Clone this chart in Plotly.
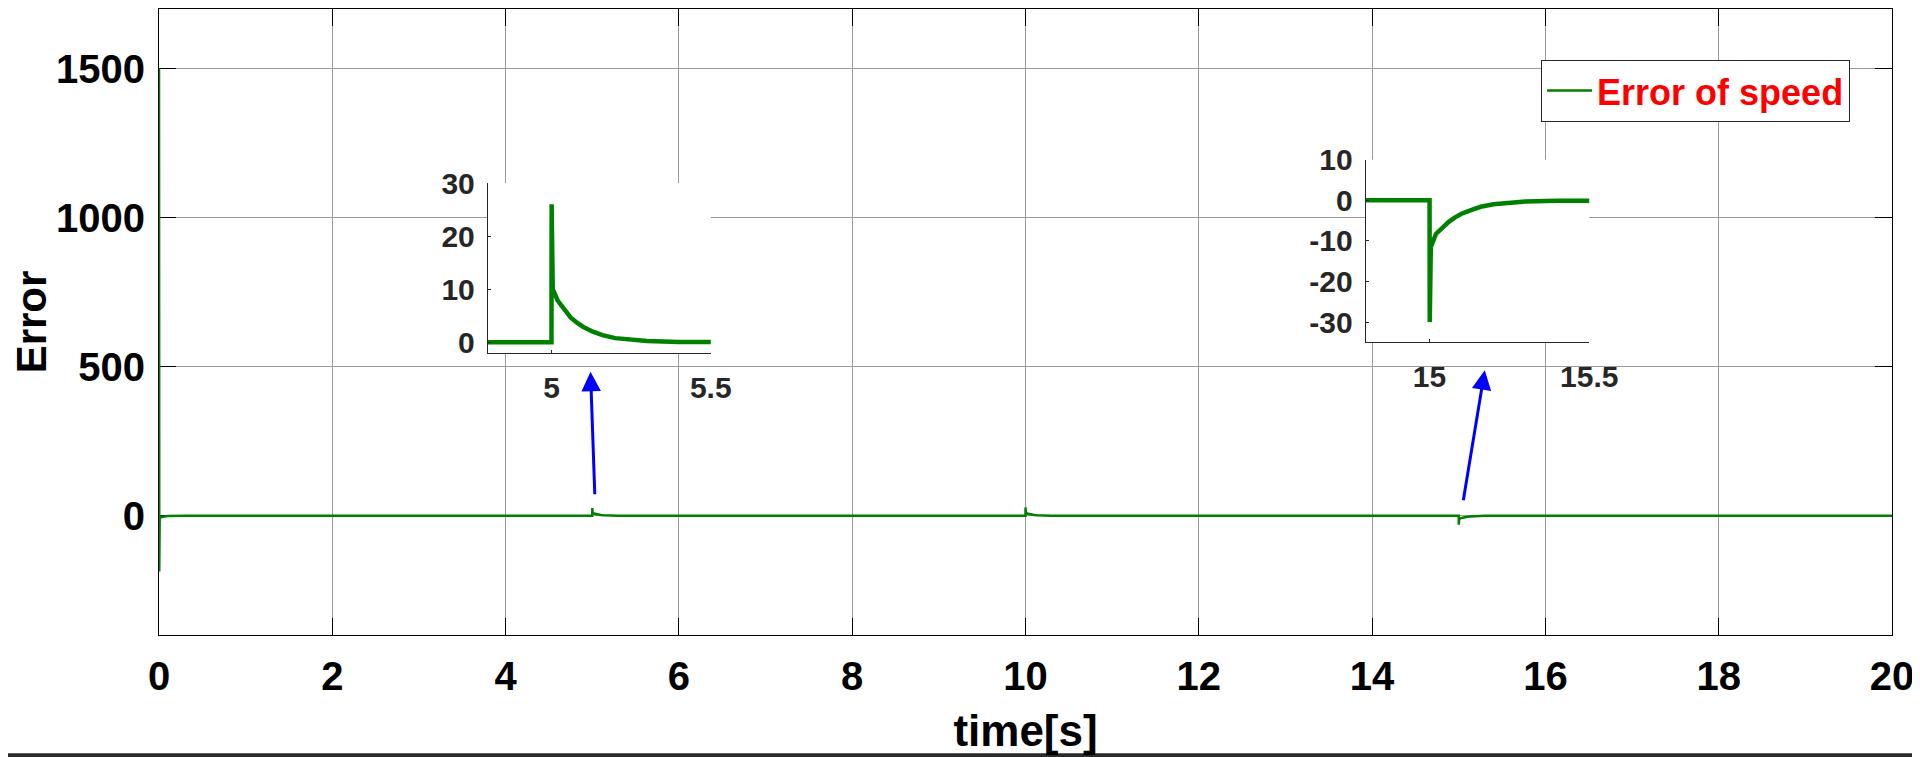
import plotly.graph_objects as go

# ── 1. Data ───────────────────────────────────────────────────────────────────
time_s = [
    0.0, 0.001, 0.003, 0.008, 0.03, 0.1, 0.3,
    4.99, 5.0, 5.0005, 5.002, 5.004, 5.02, 5.04, 5.06, 5.08, 5.1, 5.13, 5.16,
    5.2, 5.25, 5.3, 5.4, 5.5,
    9.99, 10.0, 10.0005, 10.002, 10.004, 10.02, 10.04, 10.06, 10.08, 10.1,
    10.13, 10.16, 10.2, 10.25, 10.3, 10.4, 10.5,
    14.99, 15.0, 15.0005, 15.002, 15.004, 15.02, 15.04, 15.06, 15.08, 15.1,
    15.13, 15.16, 15.2, 15.25, 15.3, 15.4, 15.5,
    20.0,
]
error_speed = [
    1500, 1500, -187, -8, -4, -1, 0,
    0, 0, 26, 14, 10, 7.8, 6.1, 4.7, 3.7, 2.9, 2.0, 1.35,
    0.8, 0.45, 0.25, 0.07, 0,
    0, 0, 28, 15, 10, 7.8, 6.1, 4.7, 3.7, 2.9,
    2.0, 1.35, 0.8, 0.45, 0.25, 0.07, 0,
    0, 0, -30, -18, -11.5, -8.3, -6.6, -5.3, -4.2, -3.3,
    -2.4, -1.6, -1.0, -0.6, -0.3, -0.1, 0,
    0,
]

x_ticks = [0, 2, 4, 6, 8, 10, 12, 14, 16, 18, 20]
y_ticks = [0, 500, 1000, 1500]

zoom1_x_ticks = [5, 5.5]
zoom1_x_labels = ["5", "5.5"]
zoom1_y_ticks = [0, 10, 20, 30]
zoom1_y_labels = ["0", "10", "20", "30"]

zoom2_x_ticks = [15, 15.5]
zoom2_x_labels = ["15", "15.5"]
zoom2_y_ticks = [-30, -20, -10, 0, 10]
zoom2_y_labels = ["-30", "-20", "-10", "0", "10"]

GREEN = "#008000"
FONT = "Liberation Sans, Arial, sans-serif"
INSET_GREY = "#262626"

# ── 2. Traces ─────────────────────────────────────────────────────────────────
fig = go.Figure()
fig.add_trace(go.Scatter(
    x=time_s, y=error_speed, mode="lines", name="Error of speed",
    line=dict(color=GREEN, width=2.5),
))
fig.add_trace(go.Scatter(
    x=time_s, y=error_speed, mode="lines", showlegend=False,
    xaxis="x2", yaxis="y2", line=dict(color=GREEN, width=4.5),
))
fig.add_trace(go.Scatter(
    x=time_s, y=error_speed, mode="lines", showlegend=False,
    xaxis="x3", yaxis="y3", line=dict(color=GREEN, width=4.5),
))

# ── 3. Axes ───────────────────────────────────────────────────────────────────
# automargin off: mirrored inside ticks would otherwise push the top margin
main_axis = dict(
    showline=True, linecolor="black", linewidth=1, mirror="ticks",
    ticks="inside", ticklen=17, tickcolor="black", layer="below traces",
    showgrid=True, gridcolor="#9a9a9a", gridwidth=1, zeroline=False,
    automargin=False,
    tickfont=dict(family=FONT, size=40, color="black", weight="bold"),
)
inset_axis = dict(
    showline=True, linecolor=INSET_GREY, linewidth=1,
    ticks="inside", ticklen=3, tickcolor=INSET_GREY,
    showgrid=False, zeroline=False, automargin=False,
    tickfont=dict(family=FONT, size=30, color=INSET_GREY, weight="bold"),
)

# the page body adds an 8 px offset, so the figure is 8 px smaller than the window
fig.update_layout(
    width=1912, height=749,
    margin=dict(l=151, r=28, t=1, b=122, autoexpand=False),
    paper_bgcolor="white", plot_bgcolor="white",
    xaxis=dict(
        main_axis, range=[0, 20], tickvals=x_ticks, ticklabelstandoff=6,
        title=dict(text="time[s]", standoff=18,
                   font=dict(family=FONT, size=44, color="black", weight="bold")),
    ),
    yaxis=dict(
        main_axis, range=[-400, 1700], tickvals=y_ticks, ticklabelstandoff=5,
        title=dict(text="Error", standoff=28,
                   font=dict(family=FONT, size=42, color="black", weight="bold")),
    ),
    xaxis2=dict(inset_axis, domain=[0.1897, 0.3184], anchor="y2",
                range=[4.8, 5.5], tickvals=zoom1_x_ticks, ticktext=zoom1_x_labels,
                ticklabelstandoff=8),
    yaxis2=dict(inset_axis, domain=[0.4505, 0.7220], anchor="x2",
                range=[-2, 30], tickvals=zoom1_y_ticks, ticktext=zoom1_y_labels,
                ticklabelstandoff=6),
    xaxis3=dict(inset_axis, domain=[0.6963, 0.8253], anchor="y3",
                range=[14.8, 15.5], tickvals=zoom2_x_ticks, ticktext=zoom2_x_labels,
                ticklabelstandoff=8),
    yaxis3=dict(inset_axis, domain=[0.4674, 0.7593], anchor="x3",
                range=[-35, 10], tickvals=zoom2_y_ticks, ticktext=zoom2_y_labels,
                ticklabelstandoff=6),
    legend=dict(
        x=0.9758, y=0.919, xanchor="right", yanchor="top",
        bgcolor="white", bordercolor=INSET_GREY, borderwidth=1,
        font=dict(family=FONT, size=36, color="red", weight="bold"),
        itemwidth=45,
    ),
    showlegend=True,
)

# ── 4. Arrows pointing at the zoomed events ───────────────────────────────────
for tip_x, tip_y, tail_x, tail_y in [(4.98, 483, 5.03, 67), (15.30, 488, 15.05, 47)]:
    fig.add_annotation(
        x=tip_x, y=tip_y, ax=tail_x, ay=tail_y, xref="x", yref="y",
        axref="x", ayref="y", text="", showarrow=True,
        arrowhead=2, arrowsize=1.3, arrowwidth=3, arrowcolor="blue",
    )

# dark window edge visible on the right and bottom of the screenshot
fig.add_shape(type="rect", xref="paper", yref="paper", x0=1.0137, x1=1.03,
              y0=-0.25, y1=1.05, fillcolor="#2b2b2b", line_width=0, layer="above")
fig.add_shape(type="rect", xref="paper", yref="paper", x0=-0.1, x1=1.03,
              y0=-0.25, y1=-0.189, fillcolor="#2b2b2b", line_width=0, layer="above")

fig.write_html("out.html")
